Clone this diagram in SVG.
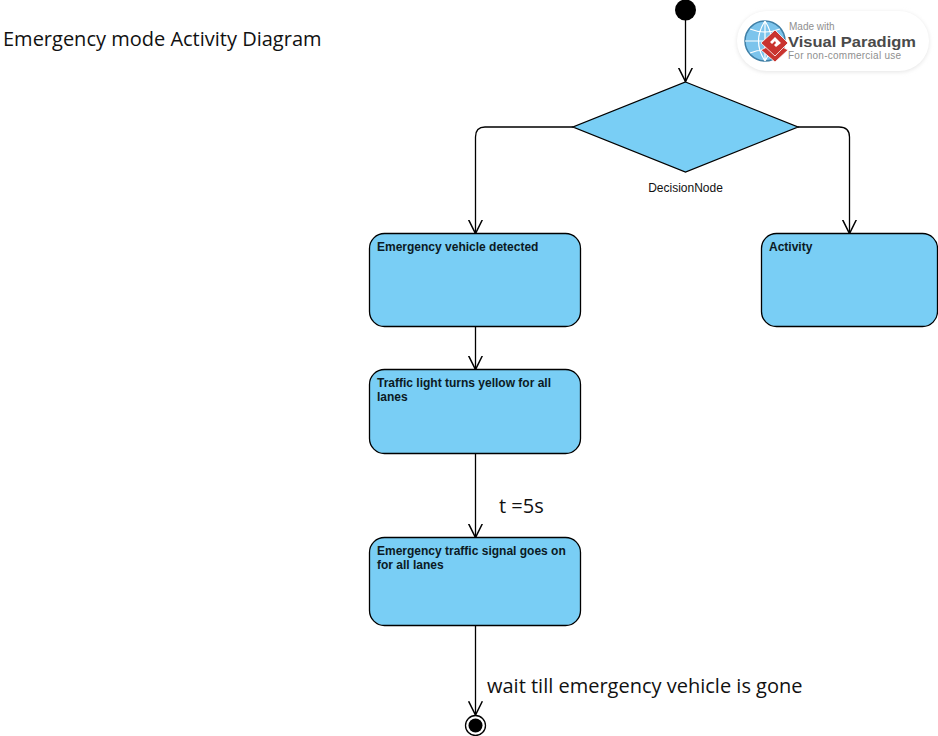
<svg xmlns="http://www.w3.org/2000/svg" width="938" height="736" viewBox="0 0 938 736">
<defs>
<marker id="open" markerUnits="userSpaceOnUse" markerWidth="16" markerHeight="16" refX="12" refY="6" orient="auto" viewBox="0 0 14 12"><path d="M0 0L12 6L0 12" fill="none" stroke="#000" stroke-width="1.3"/></marker>
<filter id="sh" x="-10%" y="-20%" width="120%" height="140%"><feGaussianBlur stdDeviation="2"/></filter>
</defs>
<style>
.act{fill:#79cef5;stroke:#000;stroke-width:1.3}
.lbl{font:bold 12px "Liberation Sans",Arial,sans-serif;fill:#0b1a24}
.note{font:20px "Open Sans",sans-serif;fill:#111}
.conn{fill:none;stroke:#000;stroke-width:1.3;marker-end:url(#open)}
</style>
<rect width="938" height="736" fill="#fff"/>
<text id="title" class="note" x="3" y="46">Emergency mode Activity Diagram</text>
<g id="watermark">
<rect x="737" y="12" width="192" height="60" rx="30" fill="#e4e4e4" filter="url(#sh)"/>
<rect x="737" y="11" width="192" height="60" rx="30" fill="#fff"/>
<circle cx="765" cy="41" r="20" fill="#7cc4ec" stroke="#3f7fa6" stroke-width="1.5"/>
<path d="M745 41H785M765 21V61M750 29Q765 35 780 29M750 53Q765 47 780 53M765 21Q752 41 765 61M765 21Q778 41 765 61" fill="none" stroke="#fff" stroke-width="1.200"/>
<path d="M761 50L775 62L788 50L775 43Z" fill="#c9342f" stroke="#fff" stroke-width="0.800"/>
<path d="M761 43L775 30L788 43L775 56Z" fill="#c9342f" stroke="#fff" stroke-width="0.800"/>
<path d="M770 42L775 37L781 43L776 47L774 45L776 43L775 41L772 44Z" fill="#fff"/>
<text x="789" y="30" font-family="Liberation Sans, Arial, sans-serif" font-size="10" fill="#8f8f8f">Made with</text>
<text x="788" y="47" font-family="Liberation Sans, Arial, sans-serif" font-size="15.500" font-weight="bold" fill="#4a4a4a" textLength="128" lengthAdjust="spacingAndGlyphs">Visual Paradigm</text>
<text x="788" y="59" font-family="Liberation Sans, Arial, sans-serif" font-size="10" fill="#8f8f8f" textLength="113" lengthAdjust="spacing">For non-commercial use</text>
</g>
<g id="connectors">
<path class="conn" d="M685.500 20V81.500"/>
<path class="conn" d="M573 127H485Q475.500 127 475.500 137V233.500"/>
<path class="conn" d="M798 127H839Q849.500 127 849.500 137V233.500"/>
<path class="conn" d="M475.500 326V369.500"/>
<path class="conn" d="M475.500 453V537.500"/>
<path class="conn" d="M475.500 625V715"/>
</g>
<g id="start"><circle cx="685.500" cy="10" r="10.500" fill="#000"/></g>
<g id="decision"><path d="M685.500 82L798 127L685.500 172L573 127Z" fill="#79cef5" stroke="#000" stroke-width="1.300"/>
<text x="685.500" y="192" text-anchor="middle" font-family="Liberation Sans, Arial, sans-serif" font-size="12" fill="#111">DecisionNode</text></g>
<g id="a1"><rect class="act" x="369.500" y="233.500" width="211" height="93" rx="15"/><text class="lbl" x="377" y="251">Emergency vehicle detected</text></g>
<g id="a2"><rect class="act" x="761.500" y="233.500" width="176" height="93" rx="15"/><text class="lbl" x="769" y="251">Activity</text></g>
<g id="a3"><rect class="act" x="369.500" y="369.500" width="211" height="84" rx="15"/><text class="lbl" x="377" y="387">Traffic light turns yellow for all</text><text class="lbl" x="377" y="401">lanes</text></g>
<g id="a4"><rect class="act" x="369.500" y="537.500" width="211" height="88" rx="15"/><text class="lbl" x="377" y="555">Emergency traffic signal goes on</text><text class="lbl" x="377" y="569">for all lanes</text></g>
<g id="end"><circle cx="475.500" cy="725.500" r="10" fill="#fff" stroke="#000" stroke-width="1.300"/><circle cx="475.500" cy="725.500" r="7" fill="#000"/></g>
<text class="note" x="499" y="513">t =5s</text>
<text class="note" x="487" y="693">wait till emergency vehicle is gone</text>
</svg>
